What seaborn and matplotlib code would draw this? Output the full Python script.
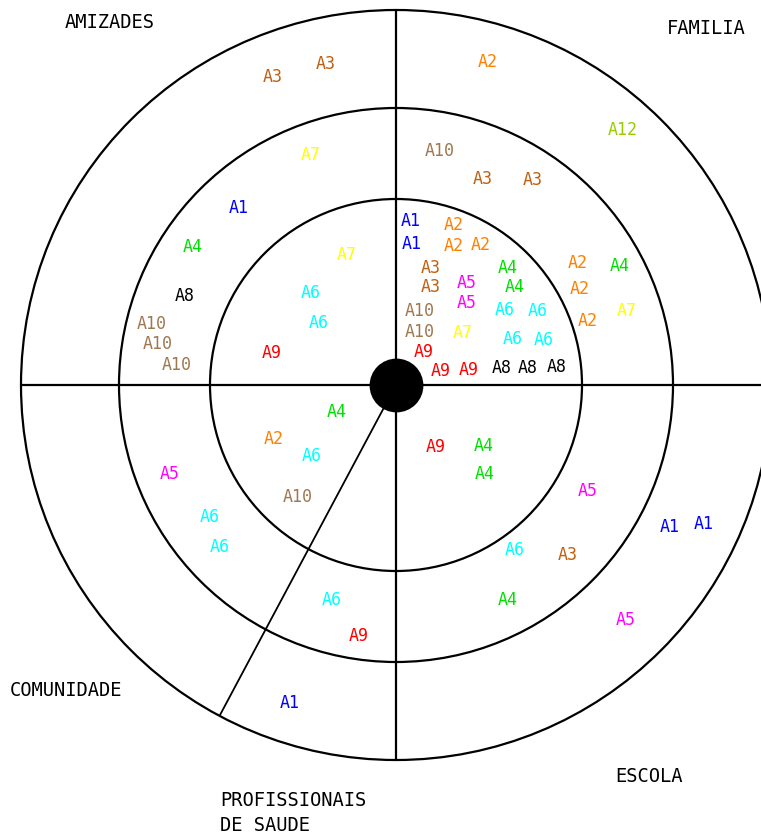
import matplotlib
matplotlib.use("Agg")
import matplotlib.pyplot as plt
from matplotlib.patches import Circle
import pandas as pd
import seaborn as sns

# ring radii (px from centre)
ring_radii = [186, 277, 375]

# node labels, position relative to the centre (x right, y up, in px)
node_labels = [
    # amizades
    "A3", "A3", "A7", "A1", "A4", "A8", "A10", "A10", "A10", "A7", "A6", "A6", "A9",
    # familia
    "A2", "A12", "A10", "A3", "A3", "A1", "A1", "A2", "A2", "A2", "A3", "A3",
    "A5", "A5", "A4", "A4", "A10", "A10", "A7", "A6", "A6", "A6", "A6",
    "A9", "A9", "A9", "A8", "A8", "A8", "A2", "A2", "A2", "A4", "A7",
    # comunidade / saude
    "A4", "A2", "A6", "A10", "A5", "A6", "A6", "A6", "A9", "A1",
    # escola
    "A9", "A4", "A4", "A5", "A1", "A1", "A6", "A3", "A4", "A5",
]
node_x = [
    -123, -70, -85, -157, -203, -211, -244, -238, -219, -49, -85, -77, -124,
    92, 227, 44, 87, 137, 15, 16, 58, 58, 85, 35, 35,
    71, 71, 112, 119, 24, 24, 67, 109, 142, 117, 148,
    28, 45, 73, 106, 132, 161, 182, 184, 192, 224, 231,
    -59, -122, -84, -98, -226, -186, -176, -64, -37, -106,
    40, 88, 89, 192, 274, 308, 119, 172, 112, 230,
]
node_y = [
    308, 321, 230, 177, 138, 89, 61, 41, 20, 130, 92, 62, 32,
    323, 255, 234, 206, 205, 164, 141, 160, 139, 140, 117, 98,
    102, 82, 117, 98, 74, 53, 52, 75, 74, 46, 45,
    33, 14, 15, 17, 17, 18, 122, 96, 64, 119, 74,
    -27, -54, -71, -112, -89, -132, -162, -215, -251, -318,
    -62, -61, -89, -106, -142, -139, -165, -170, -215, -235,
]

palette = {
    "A1": "#0000ff", "A2": "#ff8000", "A3": "#c06010", "A4": "#00e000",
    "A5": "#ff00ff", "A6": "#00ffff", "A7": "#ffff00", "A8": "#000000",
    "A9": "#ff0000", "A10": "#a07850", "A12": "#99cc00",
}

sector_names = ["AMIZADES", "FAMILIA", "COMUNIDADE", "PROFISSIONAIS\nDE SAUDE", "ESCOLA"]
sector_x = [-331, 271, -386, -176, 219]
sector_y = [363, 357, -305, -428, -391]

df = pd.DataFrame({"label": node_labels, "x": node_x, "y": node_y})

sns.set_style("white")
fig = plt.figure(figsize=(7.61, 8.36), dpi=100)
ax = fig.add_axes([0, 0, 1, 1])
ax.set_xlim(-396, 365)
ax.set_ylim(-451, 385)
ax.set_aspect("equal")
ax.axis("off")

for r in ring_radii:
    ax.add_patch(Circle((0, 0), r, fill=False, ec="black", lw=1.6))
R = ring_radii[-1]
ax.plot([0, 0], [-R, R], color="black", lw=1.6)
ax.plot([-R, R], [0, 0], color="black", lw=1.6)
ax.plot([0, -176], [0, -330], color="black", lw=1.3)

# centre dot
sns.scatterplot(x=[0], y=[0], s=1500, color="black", linewidth=0,
                ax=ax, legend=False, zorder=5)

for _, row in df.iterrows():
    ax.text(row["x"], row["y"], row["label"], color=palette[row["label"]],
            ha="center", va="center", fontsize=12, family="DejaVu Sans Mono")

for name, x, y in zip(sector_names, sector_x, sector_y):
    ax.text(x, y, name, ha="left", va="center", fontsize=13.5, color="black",
            family="DejaVu Sans Mono", linespacing=1.45)

fig.savefig("out.png", dpi=100)
